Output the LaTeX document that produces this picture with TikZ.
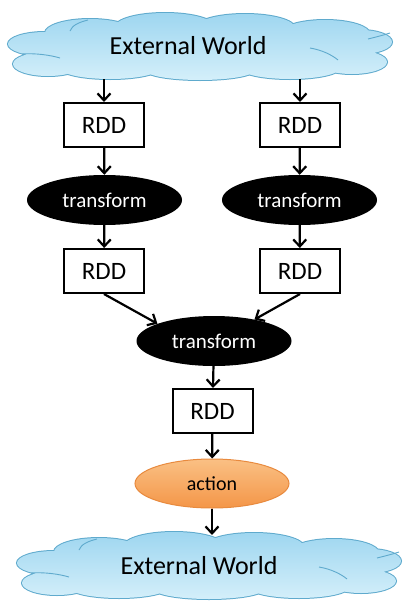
\documentclass[tikz,border=0pt]{standalone}
\usepackage{fontspec}
\setmainfont{Carlito}
\usetikzlibrary{shapes.geometric,arrows.meta}
\definecolor{cloudline}{RGB}{95,170,205}
\definecolor{cloudtop}{RGB}{158,214,240}
\definecolor{cloudbot}{RGB}{212,239,250}
\definecolor{orangeline}{RGB}{232,138,62}
\definecolor{orangetop}{RGB}{250,192,132}
\definecolor{orangebot}{RGB}{244,150,72}
\newcommand{\myCloudPath}{%
  (0,0) ellipse [x radius=150, y radius=28]
  (-110,-14) ellipse [x radius=45, y radius=14]
  (-35,-20) ellipse [x radius=50, y radius=14]
  (45,-19) ellipse [x radius=50, y radius=14]
  (125,-13) ellipse [x radius=45, y radius=14]
  (-155,-3) ellipse [x radius=37, y radius=12]
  (-152,17) ellipse [x radius=35, y radius=12]
  (160,-5) ellipse [x radius=32, y radius=12]
  (152,15) ellipse [x radius=35, y radius=12]
  (-90,21) ellipse [x radius=50, y radius=11]
  (0,23) ellipse [x radius=55, y radius=10]
  (90,21) ellipse [x radius=50, y radius=11]}
\newcommand{\myCloudInner}{%
  (-178,7) .. controls (-165,6) and (-150,8) .. (-140,11)
  (-130,-16) .. controls (-128,-22) and (-120,-25) .. (-112,-27)
  (110,1) .. controls (122,3) and (132,8) .. (138,13)
  (168,-8) .. controls (176,-10) and (184,-12) .. (190,-14)}
\begin{document}
\begin{tikzpicture}[x=1pt,y=-1pt,
  cloudedge/.style={draw=cloudline, line width=2pt},
  cloudfill/.style={top color=cloudtop, bottom color=cloudbot},
  cloudinner/.style={draw=cloudline, line width=0.9pt},
  wtext/.style={font=\fontsize{26}{30}\selectfont, inner sep=0pt},
  rdd/.style={draw, line width=2pt, fill=white, minimum width=80pt,
    minimum height=44pt, inner sep=0pt, font=\fontsize{25}{29}\selectfont},
  trans/.style={ellipse, fill=black, text=white, minimum width=155pt,
    minimum height=50pt, inner sep=0pt, font=\fontsize{21}{25}\selectfont},
  act/.style={ellipse, draw=orangeline, line width=1pt, top color=orangetop,
    bottom color=orangebot, minimum width=154pt, minimum height=49pt,
    inner sep=0pt, font=\fontsize{20}{24}\selectfont},
  flow/.style={line width=2.2pt,
    -{Straight Barb[length=7pt,width=13pt,line width=2.2pt]}}
]
\useasboundingbox (0,0) rectangle (403,603);

% top cloud
\begin{scope}[shift={(200,47)}]
  \path[cloudedge] \myCloudPath;
  \path[cloudfill] \myCloudPath;
  \path[cloudinner] \myCloudInner;
\end{scope}
\node[wtext] (tct) at (188,46) {External World};

% bottom cloud
\begin{scope}[shift={(209,566)}]
  \path[cloudedge] \myCloudPath;
  \path[cloudfill] \myCloudPath;
  \path[cloudinner] \myCloudInner;
\end{scope}
\node[wtext] (bct) at (199,566) {External World};

\node[rdd] (tl) at (104,125) {RDD};
\node[rdd] (tr) at (300,125) {RDD};
\node[trans] (el) at (104.5,200) {transform};
\node[trans] (er) at (299.5,200) {transform};
\node[rdd] (ml) at (104,271) {RDD};
\node[rdd] (mr) at (300,271) {RDD};
\node[trans] (bt) at (214,341) {transform};
\node[rdd] (br) at (212.5,411) {RDD};
\node[act] (ac) at (212,483.5) {action};

\coordinate (s1) at (104,79);
\coordinate (s2) at (300,79);
\coordinate (e1) at (212,535);

\draw[flow] (s1) -- (tl);
\draw[flow] (s2) -- (tr);
\draw[flow] (tl) -- (el);
\draw[flow] (tr) -- (er);
\draw[flow] (el) -- (ml);
\draw[flow] (er) -- (mr);
\draw[flow] (ml.south) -- (bt.163);
\draw[flow] (mr.south) -- (bt.28);
\draw[flow] (bt) -- (br);
\draw[flow] (br) -- (ac);
\draw[flow] (ac) -- (e1);
\end{tikzpicture}
\end{document}
